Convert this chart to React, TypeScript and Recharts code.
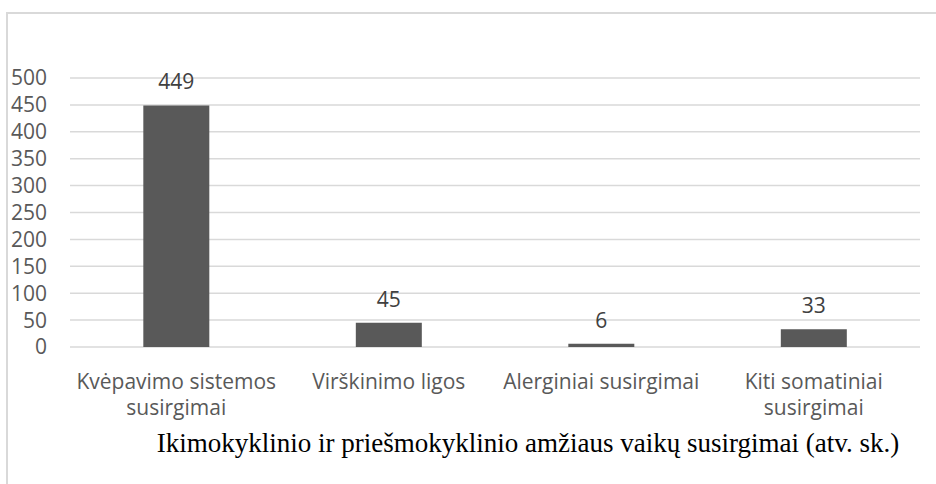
import React from "react";
import { BarChart, Bar, XAxis, YAxis, CartesianGrid, LabelList } from "recharts";

const categories = [
  "Kvėpavimo sistemos susirgimai",
  "Virškinimo ligos",
  "Alerginiai susirgimai",
  "Kiti somatiniai susirgimai",
];
const values = [449, 45, 6, 33];
const tickLabelLines = [
  ["Kvėpavimo sistemos", "susirgimai"],
  ["Virškinimo ligos"],
  ["Alerginiai susirgimai"],
  ["Kiti somatiniai", "susirgimai"],
];
const yTicks = [0, 50, 100, 150, 200, 250, 300, 350, 400, 450, 500];
const title = "Ikimokyklinio ir priešmokyklinio amžiaus vaikų susirgimai (atv. sk.)";

const data = categories.map((c, i) => ({ name: c, value: values[i] }));

const FONT = "'Open Sans', sans-serif";

const XTick = (props: any) => {
  const { x, index } = props;
  const lines = tickLabelLines[index] || [];
  const baseY = 347;
  return (
    <text x={x} y={baseY} textAnchor="middle" fill="#595959" fontFamily={FONT} fontSize={21}>
      {lines.map((l: string, i: number) => (
        <tspan key={i} x={x} dy={i === 0 ? 42 : 26}>
          {l}
        </tspan>
      ))}
    </text>
  );
};

export default function App() {
  return (
    <div style={{ position: "absolute", left: 0, top: 0, width: 936, height: 484, overflow: "hidden", background: "#fff" }}>
      <div
        style={{
          position: "absolute",
          left: 6,
          top: 12,
          width: 1000,
          height: 600,
          borderLeft: "2px solid #d9d9d9",
          borderTop: "2px solid #d9d9d9",
        }}
      />
      <div style={{ position: "absolute", left: 0, top: 0 }}>
        <BarChart
          width={936}
          height={484}
          data={data}
          margin={{ top: 78, right: 16, bottom: 57, left: 8 }}
          barCategoryGap="34.5%"
        >
          <CartesianGrid vertical={false} stroke="#d9d9d9" strokeWidth={1.5} />
          <XAxis
            dataKey="name"
            axisLine={false}
            tickLine={false}
            tick={<XTick />}
            height={80}
            interval={0}
          />
          <YAxis
            width={62}
            domain={[0, 500]}
            ticks={yTicks}
            interval={0}
            axisLine={false}
            tickLine={false}
            tickSize={0}
            tickMargin={23}
            tick={{ fill: "#595959", fontFamily: FONT, fontSize: 21 }}
          />
          <Bar dataKey="value" fill="#595959" isAnimationActive={false}>
            <LabelList
              dataKey="value"
              position="top"
              offset={16}
              fill="#404040"
              fontFamily={FONT}
              fontSize={21}
            />
          </Bar>
        </BarChart>
      </div>
      <div
        style={{
          position: "absolute",
          left: 0,
          width: 1056,
          textAlign: "center",
          top: 428,
          fontFamily: "'Liberation Serif', 'Times New Roman', serif",
          fontSize: 27,
          color: "#000",
          whiteSpace: "nowrap",
          lineHeight: "30px",
        }}
      >
        {title}
      </div>
    </div>
  );
}
